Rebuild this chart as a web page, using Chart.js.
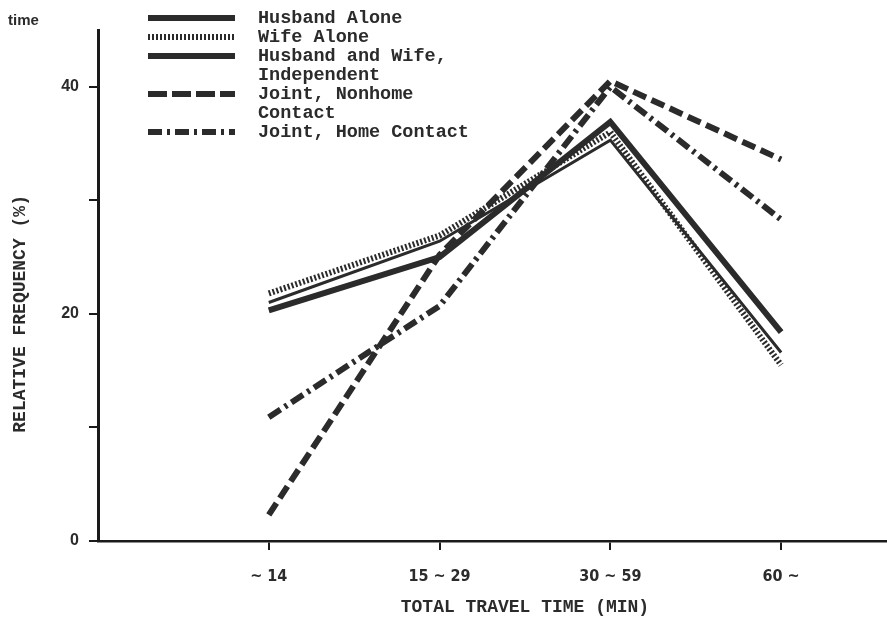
<!DOCTYPE html>
<html>
<head>
<meta charset="utf-8">
<title>Total travel time</title>
<script src="https://cdn.jsdelivr.net/npm/chart.js@4/dist/chart.umd.min.js"></script>
<style>
  html, body { margin: 0; padding: 0; background: #ffffff; }
  #wrap { width: 887px; height: 620px; position: relative; }
</style>
</head>
<body>
<div id="wrap"><canvas id="chart" width="887" height="620"></canvas></div>
<script>
// Travel-time classes on the horizontal axis
const categories = ['~ 14', '15 ~ 29', '30 ~ 59', '60 ~'];

// Relative frequency (%) of each trip pattern per class
const husbandAlone   = [20.3, 25.0, 36.9, 18.4];
const wifeAlone      = [21.8, 26.9, 36.0, 15.5];
const husbandAndWife = [21.0, 26.4, 35.3, 16.6];
const jointNonhome   = [2.3, 25.2, 40.5, 33.6];
const jointHome      = [10.9, 20.7, 40.0, 28.3];

// Legend entries (one array of lines per series)
const seriesNames = [
  ['Husband Alone'],
  ['Wife Alone'],
  ['Husband and Wife,', 'Independent'],
  ['Joint, Nonhome', 'Contact'],
  ['Joint, Home Contact']
];

// Vertical axis ticks: only some carry a label
const yTickValues = [0, 10, 20, 30, 40];
const yTickLabels = ['0', '', '20', '', '40'];

const INK = '#2b2b2b';
const MONO = "'Liberation Mono', 'DejaVu Sans Mono', monospace";

function toPoints(values) {
  return values.map((v, i) => ({ x: i + 1, y: v }));
}

const styles = [
  { borderWidth: 6, borderDash: [] },
  { borderWidth: 6, borderDash: [2, 2] },
  { borderWidth: 3, borderDash: [] },
  { borderWidth: 6, borderDash: [14, 6] },
  { borderWidth: 6, borderDash: [14, 5, 3, 5] }
];

const seriesValues = [husbandAlone, wifeAlone, husbandAndWife, jointNonhome, jointHome];

const datasets = seriesValues.map((vals, i) => ({
  label: seriesNames[i].join(' '),
  data: toPoints(vals),
  borderColor: INK,
  backgroundColor: INK,
  borderWidth: styles[i].borderWidth,
  borderDash: styles[i].borderDash,
  borderCapStyle: 'butt',
  borderJoinStyle: 'miter',
  pointRadius: 0,
  tension: 0,
  fill: false
}));

// Legend, axis titles and the corner note, drawn on the canvas
const annotations = {
  id: 'annotations',
  afterDraw(chart) {
    const ctx = chart.ctx;
    ctx.save();
    ctx.fillStyle = INK;

    // corner note
    ctx.font = "bold 15px 'Liberation Sans', Arial, sans-serif";
    ctx.textAlign = 'left';
    ctx.textBaseline = 'middle';
    ctx.fillText('time', 8, 21);

    // legend
    const x0 = 148, x1 = 235, textX = 258, lineH = 19;
    let row = 0;
    ctx.font = 'bold 18.5px ' + MONO;
    chart.data.datasets.forEach((ds, i) => {
      const y = 18 + row * lineH;
      ctx.beginPath();
      ctx.strokeStyle = ds.borderColor;
      ctx.lineWidth = ds.borderWidth < 5 ? 6 : ds.borderWidth;
      ctx.setLineDash(ds.borderDash.length === 2 && ds.borderDash[0] > 10 ? [19, 5] : ds.borderDash);
      ctx.lineCap = 'butt';
      ctx.moveTo(x0, y);
      ctx.lineTo(x1, y);
      ctx.stroke();
      ctx.setLineDash([]);
      seriesNames[i].forEach((line, k) => {
        ctx.fillText(line, textX, 18 + (row + k) * lineH);
      });
      row += seriesNames[i].length;
    });

    // axis titles
    const xs = chart.scales.x;
    const ys = chart.scales.y;
    ctx.textAlign = 'center';
    ctx.font = 'bold 18px ' + MONO;
    ctx.fillText('TOTAL TRAVEL TIME (MIN)', (xs.getPixelForValue(1) + xs.getPixelForValue(4)) / 2, 607);

    ctx.translate(20, ys.getPixelForValue(20));
    ctx.rotate(-Math.PI / 2);
    ctx.fillText('RELATIVE FREQUENCY (%)', 0, 0);
    ctx.restore();
  }
};

new Chart(document.getElementById('chart'), {
  type: 'line',
  data: { datasets },
  options: {
    responsive: false,
    animation: false,
    layout: { padding: { top: 30, right: 0, left: 0, bottom: 0 } },
    plugins: {
      legend: { display: false },
      tooltip: { enabled: false }
    },
    scales: {
      x: {
        type: 'linear',
        min: 0,
        max: 4.62,
        afterFit(scale) { scale.height = 79; },
        afterBuildTicks(scale) {
          scale.ticks = categories.map((c, i) => ({ value: i + 1 }));
        },
        border: { display: true, color: '#1a1a1a', width: 2.5 },
        grid: { drawOnChartArea: false, drawTicks: true, tickLength: 9, color: '#1a1a1a', lineWidth: 2 },
        ticks: {
          padding: 17,
          color: INK,
          maxRotation: 0,
          autoSkip: false,
          font: { family: "'DejaVu Sans Condensed', 'Liberation Sans Narrow', sans-serif", size: 16, weight: 'bold' },
          callback: (v) => categories[Math.round(v) - 1] || ''
        }
      },
      y: {
        type: 'linear',
        min: 0,
        max: 45,
        afterFit(scale) { scale.width = 98; },
        afterBuildTicks(scale) {
          scale.ticks = yTickValues.map(v => ({ value: v }));
        },
        border: { display: true, color: '#1a1a1a', width: 3 },
        grid: { drawOnChartArea: false, drawTicks: true, tickLength: 9, color: '#1a1a1a', lineWidth: 2 },
        ticks: {
          padding: 10,
          color: INK,
          font: { family: "'Liberation Sans', Arial, sans-serif", size: 16, weight: 'bold' },
          callback: (v) => yTickLabels[yTickValues.indexOf(v)] ?? ''
        }
      }
    }
  },
  plugins: [annotations]
});
</script>
</body>
</html>
